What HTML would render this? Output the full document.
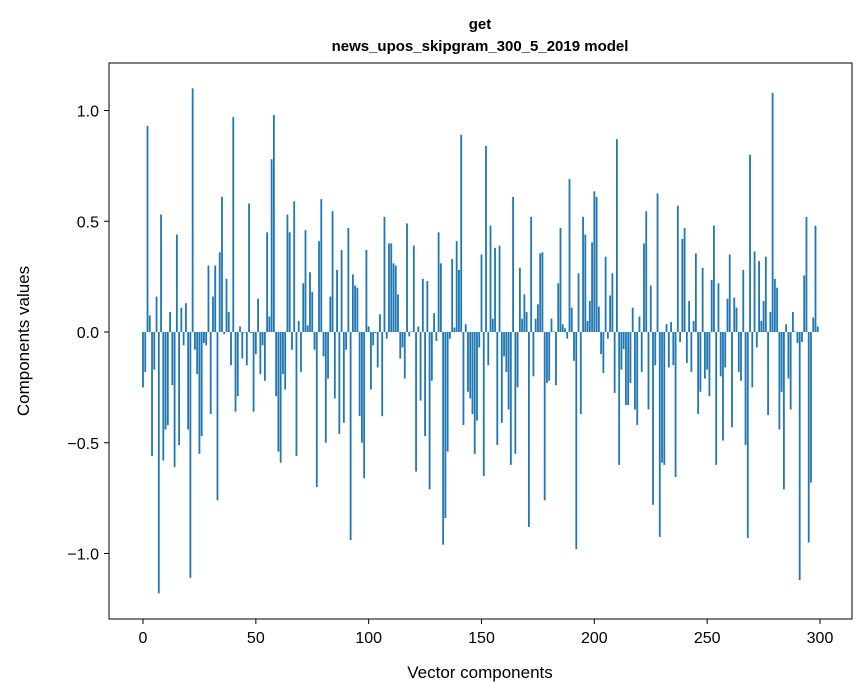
<!DOCTYPE html>
<html><head><meta charset="utf-8"><style>
body{margin:0;background:#fff;}
svg{display:block;font-family:"Liberation Sans",sans-serif;}
</style></head><body>
<svg id="chart" width="867" height="696">
<text x="480" y="29" text-anchor="middle" font-size="15" font-weight="bold">get</text>
<text x="480" y="51" text-anchor="middle" font-size="15" font-weight="bold">news_upos_skipgram_300_5_2019 model</text>
<g id="bars"></g>
<g id="axes"></g>
<rect x="109" y="63" width="743" height="556" fill="none" stroke="#000" stroke-width="1"/>
<text x="480" y="678" text-anchor="middle" font-size="17">Vector components</text>
<text transform="translate(29,341) rotate(-90)" text-anchor="middle" font-size="17">Components values</text>
</svg>
<script>
const values = [
-0.25,-0.18,0.93,0.075,-0.56,-0.17,0.16,-1.18,0.53,-0.58,
-0.44,-0.42,0.09,-0.24,-0.61,0.44,-0.51,0.11,-0.06,0.13,
-0.44,-1.11,1.10,-0.08,-0.19,-0.55,-0.47,-0.05,-0.06,0.30,
-0.37,0.16,0.30,-0.76,0.36,0.61,-0.01,0.24,0.09,-0.15,
0.97,-0.36,-0.29,0.025,-0.12,-0.003,-0.15,0.58,-0.005,-0.36,
-0.10,0.15,-0.19,-0.06,-0.22,0.45,0.07,0.78,0.98,-0.29,
-0.54,-0.59,-0.19,-0.26,0.53,0.45,-0.08,0.59,-0.56,0.05,
-0.18,0.22,0.46,0.03,0.27,0.18,-0.08,-0.70,0.41,0.60,
-0.11,-0.50,-0.21,0.16,0.545,-0.30,0.28,-0.46,0.37,-0.41,
-0.08,0.47,-0.94,0.26,0.21,0.20,-0.38,-0.50,-0.66,0.37,
0.025,-0.26,-0.06,-0.005,-0.16,0.08,-0.38,0.52,-0.03,0.40,
0.40,0.31,0.30,0.17,-0.12,-0.07,-0.21,0.49,-0.02,0.003,
0.39,-0.63,0.025,-0.31,0.24,-0.47,0.23,-0.71,-0.22,0.085,
-0.04,0.45,0.31,-0.96,-0.84,-0.54,-0.03,0.33,0.02,0.41,
0.28,0.89,-0.42,0.035,-0.27,-0.30,-0.37,-0.55,-0.40,-0.07,
0.35,-0.65,0.84,-0.15,0.48,0.06,0.38,-0.51,0.39,-0.41,
-0.11,-0.18,-0.35,-0.60,0.61,-0.55,-0.25,0.29,0.06,0.17,
0.09,-0.88,0.52,-0.20,0.06,0.125,0.355,0.36,-0.76,-0.23,
-0.22,0.06,0.003,-0.24,0.22,0.47,0.035,0.017,-0.03,0.69,
0.11,-0.13,-0.98,0.265,-0.37,0.52,0.44,0.05,0.14,0.405,
0.635,0.61,0.115,-0.10,-0.185,0.34,-0.03,0.165,0.265,-0.275,
0.87,-0.60,-0.17,-0.077,-0.33,-0.33,-0.23,0.11,-0.35,-0.42,
0.07,-0.18,0.40,0.545,-0.35,0.21,-0.78,-0.15,0.626,-0.925,
-0.59,-0.60,0.035,-0.16,0.045,-0.15,-0.655,0.57,-0.045,0.42,
0.47,-0.14,0.14,-0.18,0.05,0.355,-0.37,-0.27,0.29,-0.21,
-0.17,-0.29,0.235,0.48,-0.60,0.22,-0.20,-0.49,-0.16,0.15,
0.35,-0.43,0.155,0.11,-0.18,-0.22,0.28,-0.51,-0.93,0.80,
-0.25,0.364,-0.07,0.32,0.05,0.14,0.34,-0.375,0.09,1.08,
0.24,0.20,-0.44,-0.27,-0.71,0.035,-0.21,-0.35,0.09,0.003,
-0.05,-1.12,-0.045,0.255,0.52,-0.95,-0.68,0.065,0.48,0.025
];
const xTicks = [0,50,100,150,200,250,300];
const yTicks = [-1.0,-0.5,0.0,0.5,1.0];
const yTickLabels = ["\u22121.0","\u22120.5","0.0","0.5","1.0"];

const NS="http://www.w3.org/2000/svg";
const xs = i => 143 + i*(677/300);
const ys = v => 332 - v*221.5;
const bw = 0.8*(677/300);
const bars=document.getElementById('bars');
values.forEach((v,i)=>{
  const r=document.createElementNS(NS,'rect');
  const y0=ys(0), y1=ys(v);
  r.setAttribute('x',xs(i)-bw/2);
  r.setAttribute('y',Math.min(y0,y1));
  r.setAttribute('width',bw);
  r.setAttribute('height',Math.max(Math.abs(y1-y0),0.3));
  r.setAttribute('fill','#1f77b4');
  
  
  bars.appendChild(r);
});
const axes=document.getElementById('axes');
xTicks.forEach(t=>{
  const l=document.createElementNS(NS,'line');
  l.setAttribute('x1',xs(t));l.setAttribute('x2',xs(t));
  l.setAttribute('y1',619);l.setAttribute('y2',624);
  l.setAttribute('stroke','#000');
  
  
  axes.appendChild(l);
  const tx=document.createElementNS(NS,'text');
  tx.setAttribute('x',xs(t));tx.setAttribute('y',643);
  tx.setAttribute('text-anchor','middle');tx.setAttribute('font-size','16');
  tx.textContent=t;
  
  
  axes.appendChild(tx);
});
yTicks.forEach((t,k)=>{
  const l=document.createElementNS(NS,'line');
  l.setAttribute('x1',104);l.setAttribute('x2',109);
  l.setAttribute('y1',ys(t));l.setAttribute('y2',ys(t));
  l.setAttribute('stroke','#000');
  
  
  axes.appendChild(l);
  const tx=document.createElementNS(NS,'text');
  tx.setAttribute('x',99);tx.setAttribute('y',ys(t)+6);
  tx.setAttribute('text-anchor','end');tx.setAttribute('font-size','16');
  tx.textContent=yTickLabels[k];
  
  
  axes.appendChild(tx);
});
</script>
</body></html>
